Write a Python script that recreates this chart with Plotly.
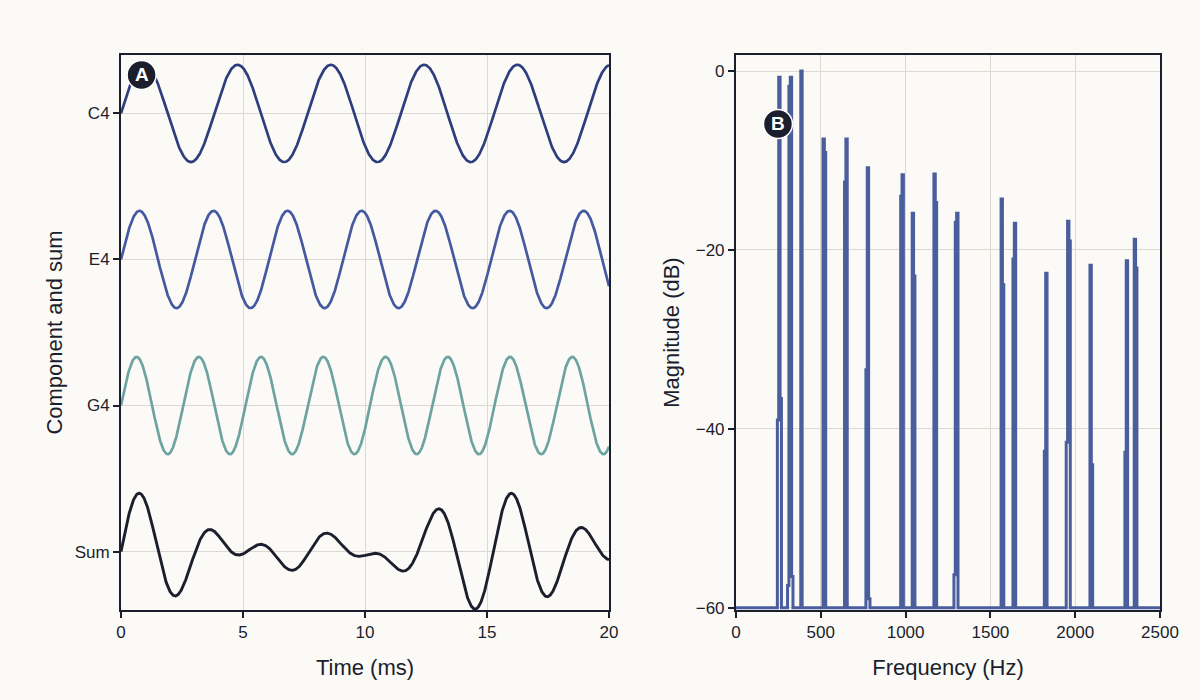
import numpy as np
import plotly.graph_objects as go

# ---------------- data ----------------
note_names = ["C4", "E4", "G4"]
note_hz = [261.63, 329.63, 392.00]
note_offsets = [9, 6, 3]
sum_offset = 0
time_ms_range = [0, 20]
n_samples = 2001

# spectrum bins that rise above the -60 dB floor
spec_hz = [248, 256, 264,
           308, 316, 324, 332,
           386,
           517, 525,
           644, 652,
           770, 778, 786,
           975, 983,
           1043, 1051,
           1171, 1179,
           1289, 1297, 1305,
           1567, 1575,
           1637, 1645,
           1822, 1830,
           1951, 1959, 1967,
           2091, 2099,
           2297, 2305,
           2352, 2360]
spec_db = [-39.0, -0.7, -36.6,
           -57.5, -1.7, -0.7, -56.5,
           0.0,
           -7.6, -9.1,
           -12.4, -7.6,
           -33.4, -10.8, -59.0,
           -14.0, -11.6,
           -15.9, -22.9,
           -11.5, -14.7,
           -56.3, -16.9, -15.9,
           -14.3, -23.9,
           -21.0, -17.0,
           -42.5, -22.6,
           -41.5, -16.8, -19.0,
           -21.7, -44.0,
           -42.6, -21.2,
           -18.8, -22.0]
floor_db = -60
freq_range = [0, 2500]
bin_hz = 8

# ---------------- styles ----------------
BG = "#fbfaf7"
INK = "#1b1e2c"
GRID = "#dcd9d2"
note_colors = ["#2e3d7c", "#4459a0", "#6da3a0"]
sum_color = "#1b1e2c"
spec_color = "#4a5e9e"
FONT = "Liberation Sans, Arial, sans-serif"
TICK_SIZE = 17
TITLE_SIZE = 22

fig = go.Figure()

t_ms = np.linspace(time_ms_range[0], time_ms_range[1], n_samples)
waves = []
for name, hz, off, col in zip(note_names, note_hz, note_offsets, note_colors):
    w = np.sin(2 * np.pi * hz * t_ms / 1000.0)
    waves.append(w)
    fig.add_trace(go.Scatter(x=t_ms, y=w + off, mode="lines",
                             line=dict(color=col, width=2.7), name=name,
                             xaxis="x", yaxis="y", showlegend=False))
total = np.sum(waves, axis=0)
total = total / np.max(np.abs(total)) * 1.2
fig.add_trace(go.Scatter(x=t_ms, y=total + sum_offset, mode="lines",
                         line=dict(color=sum_color, width=2.9), name="Sum",
                         xaxis="x", yaxis="y", showlegend=False))

# spectrum line: floor, then each run of bins
sx, sy = [freq_range[0]], [floor_db]
prev = None
for f, d in zip(spec_hz, spec_db):
    if prev is None or f - prev > bin_hz:
        if prev is not None:
            sx.append(prev + bin_hz); sy.append(floor_db)
        sx.append(f - bin_hz); sy.append(floor_db)
    sx.append(f); sy.append(d)
    prev = f
sx.append(prev + bin_hz); sy.append(floor_db)
sx.append(freq_range[1]); sy.append(floor_db)
fig.add_trace(go.Scatter(x=sx, y=sy, mode="lines", line_shape="hvh",
                         line=dict(color=spec_color, width=3),
                         xaxis="x2", yaxis="y2", showlegend=False))

axis_common = dict(showline=True, mirror=True, linecolor=INK, linewidth=2,
                   ticks="outside", ticklen=6, tickwidth=2, tickcolor=INK,
                   showgrid=True, gridcolor=GRID, gridwidth=1, zeroline=False,
                   tickfont=dict(family=FONT, size=TICK_SIZE, color=INK))
title_font = dict(family=FONT, size=TITLE_SIZE, color=INK)

fig.update_layout(
    width=1200, height=700,
    margin=dict(l=121, r=40, t=55, b=90),
    paper_bgcolor=BG, plot_bgcolor=BG,
    font=dict(family=FONT, color=INK),
    xaxis=dict(domain=[0, 0.4697], range=time_ms_range, tickvals=[0, 5, 10, 15, 20],
               title=dict(text="Time (ms)", standoff=18, font=title_font),
               anchor="y", **axis_common),
    yaxis=dict(range=[-1.2, 10.2], tickvals=note_offsets + [sum_offset],
               ticktext=note_names + ["Sum"], anchor="x",
               title=dict(text="Component and sum", standoff=6, font=title_font),
               **axis_common),
    xaxis2=dict(domain=[0.5919, 1], range=freq_range,
                tickvals=[0, 500, 1000, 1500, 2000, 2500],
                title=dict(text="Frequency (Hz)", standoff=18, font=title_font),
                anchor="y2", **axis_common),
    yaxis2=dict(range=[-60.25, 1.8], tickvals=[0, -20, -40, -60], anchor="x2",
                title=dict(text="Magnitude (dB)", standoff=10, font=title_font),
                **axis_common),
)

# panel badges
for label, px, py in [("A", 0.0198, 0.964), ("B", 0.6323, 0.8757)]:
    fig.add_shape(type="circle", xref="paper", yref="paper",
                  xsizemode="pixel", ysizemode="pixel", xanchor=px, yanchor=py,
                  x0=-14.5, x1=14.5, y0=-14.5, y1=14.5,
                  fillcolor=INK, line=dict(color="#ffffff", width=1.5), layer="above")
    fig.add_annotation(x=px, y=py, xref="paper", yref="paper", text="<b>%s</b>" % label,
                       showarrow=False, font=dict(family=FONT, size=19, color="#ffffff"),
                       xanchor="center", yanchor="middle")

fig.write_html("out.html")
